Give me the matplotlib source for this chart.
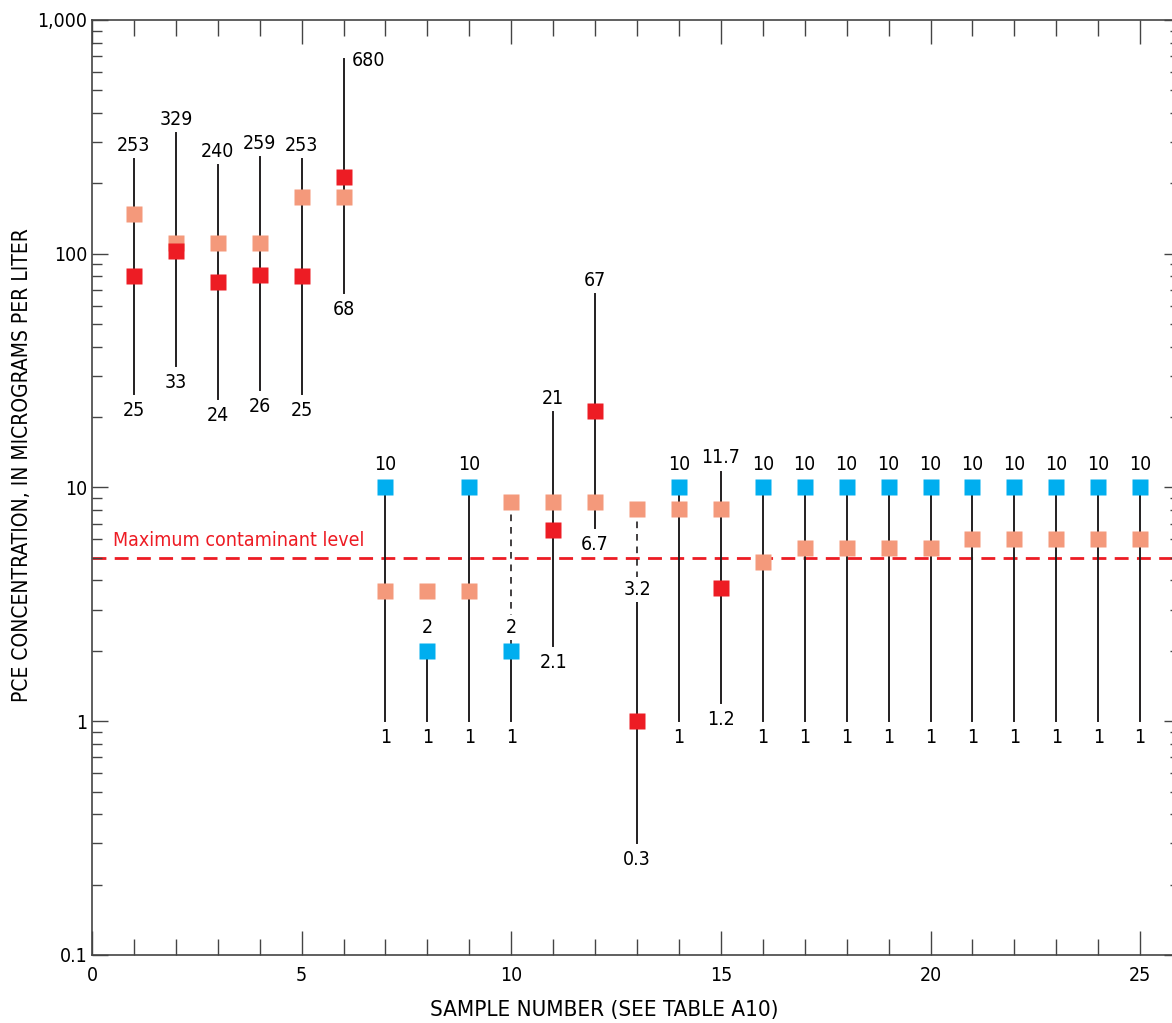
import numpy as np
import matplotlib.pyplot as plt
from matplotlib.ticker import FixedLocator, FixedFormatter, NullFormatter

plt.rcParams['font.family'] = ['DejaVu Sans']
plt.rcParams['font.stretch'] = 'condensed'

# Datos
samples = np.arange(1, 26)
range_low = [25, 33, 24, 26, 25, 68, 1, 1, 1, 1, 2.1, 6.7, 0.3, 1, 1.2,
             1, 1, 1, 1, 1, 1, 1, 1, 1, 1]
range_high = [253, 329, 240, 259, 253, 680, 10, 2, 10, 2, 21, 67, 3.2, 10, 11.7,
              10, 10, 10, 10, 10, 10, 10, 10, 10, 10]
low_labels = ['25', '33', '24', '26', '25', '68', '1', '1', '1', '1', '2.1', '6.7', '0.3',
              '1', '1.2', '1', '1', '1', '1', '1', '1', '1', '1', '1', '1']
high_labels = ['253', '329', '240', '259', '253', '680', '10', '2', '10', '2', '21', '67',
               '3.2', '10', '11.7', '10', '10', '10', '10', '10', '10', '10', '10', '10', '10']
salmon_vals = [148, 111, 111, 111, 175, 175, 3.6, 3.6, 3.6, 8.7, 8.7, 8.7, 8.1, 8.1, 8.1,
               4.8, 5.5, 5.5, 5.5, 5.5, 6.0, 6.0, 6.0, 6.0, 6.0]
red_vals = [80, 103, 76, 81, 80, 213, np.nan, np.nan, np.nan, np.nan, 6.6, 21.3, 1.0,
            np.nan, 3.7] + [np.nan] * 10
blue_vals = [np.nan] * 6 + [10, 2, 10, 2, np.nan, np.nan, np.nan, 10, np.nan] + [10] * 10
dashed_samples = [10, 13]
mcl = 5

c_line = '#231f20'
c_salmon = '#f4997b'
c_red = '#ed1c24'
c_blue = '#00aeef'

fig = plt.figure(figsize=(11.72, 10.23), dpi=100)
ax = fig.add_axes([0.0785, 0.0665, 0.9215, 0.914])
ax.set_yscale('log')
ax.set_xlim(0, 25.76)
ax.set_ylim(0.1, 1000)

ax.axhline(mcl, color=c_red, lw=2, ls=(0, (5, 3)), zorder=1)
ax.text(0.5, mcl * 1.08, 'Maximum contaminant level', color=c_red, fontsize=14,
        ha='left', va='bottom')

for i, s in enumerate(samples):
    ax.plot([s, s], [range_low[i], range_high[i]], color=c_line, lw=1.4, zorder=2)
    if s in dashed_samples:
        ax.plot([s, s], [salmon_vals[i], range_high[i]], color=c_line, lw=1.2,
                ls=(0, (4, 3.5)), zorder=2)

ax.plot(samples, salmon_vals, 's', color=c_salmon, ms=12, mec='none', zorder=4)
ax.plot(samples, red_vals, 's', color=c_red, ms=12, mec='none', zorder=5)
ax.plot(samples, blue_vals, 's', color=c_blue, ms=12, mec='none', zorder=6)

for i, s in enumerate(samples):
    if s == 6:
        ax.annotate(high_labels[i], (s, range_high[i]), xytext=(6, -1),
                    textcoords='offset points', ha='left', va='center', fontsize=14)
    else:
        off = 10 if not np.isnan(blue_vals[i]) else 3
        bb = dict(fc='white', ec='none', pad=2) if s in dashed_samples else None
        ax.annotate(high_labels[i], (s, range_high[i]), xytext=(0, off),
                    textcoords='offset points', ha='center', va='bottom', fontsize=14,
                    bbox=bb, zorder=3)
    ax.annotate(low_labels[i], (s, range_low[i]), xytext=(0, -5),
                textcoords='offset points', ha='center', va='top', fontsize=14)

# ejes
ax.spines['right'].set_visible(False)
for sp in ['left', 'bottom', 'top']:
    ax.spines[sp].set_color('#444444')
    ax.spines[sp].set_linewidth(1.2)

ax.xaxis.set_major_locator(FixedLocator([0, 5, 10, 15, 20, 25]))
ax.xaxis.set_minor_locator(FixedLocator(np.arange(0, 26)))
ax.tick_params(axis='x', which='major', direction='in', length=17, width=1,
               top=True, labelsize=14, color='#444444')
ax.tick_params(axis='x', which='minor', direction='in', length=11.5, width=1,
               top=True, color='#444444')
ax.tick_params(axis='x', pad=8)

ax.yaxis.set_major_locator(FixedLocator([0.1, 1, 10, 100, 1000]))
ax.yaxis.set_major_formatter(FixedFormatter(['0.1', '1', '10', '100', '1,000']))
minors = [m * 10.0 ** e for e in range(-1, 3) for m in range(2, 10)]
ax.yaxis.set_minor_locator(FixedLocator(minors))
ax.yaxis.set_minor_formatter(NullFormatter())
ax.tick_params(axis='y', which='major', direction='in', length=11.5, width=1,
               labelsize=14, color='#444444')
ax.tick_params(axis='y', which='minor', direction='in', length=7, width=1,
               color='#444444')
# marcas cortas del borde derecho recortado
ax.tick_params(axis='y', which='major', right=True)
ax.tick_params(axis='y', which='minor', right=True)
for t in ax.yaxis.get_major_ticks():
    t.tick2line.set_markersize(6)
for t in ax.yaxis.get_minor_ticks():
    t.tick2line.set_markersize(1.5)

ax.set_xlabel('SAMPLE NUMBER (SEE TABLE A10)', fontsize=16)
ax.set_ylabel('PCE CONCENTRATION, IN MICROGRAMS PER LITER', fontsize=15)
ax.xaxis.set_label_coords(0.474, -0.048)
ax.yaxis.set_label_coords(-0.056, 0.524)

fig.savefig('out.png', dpi=100)
